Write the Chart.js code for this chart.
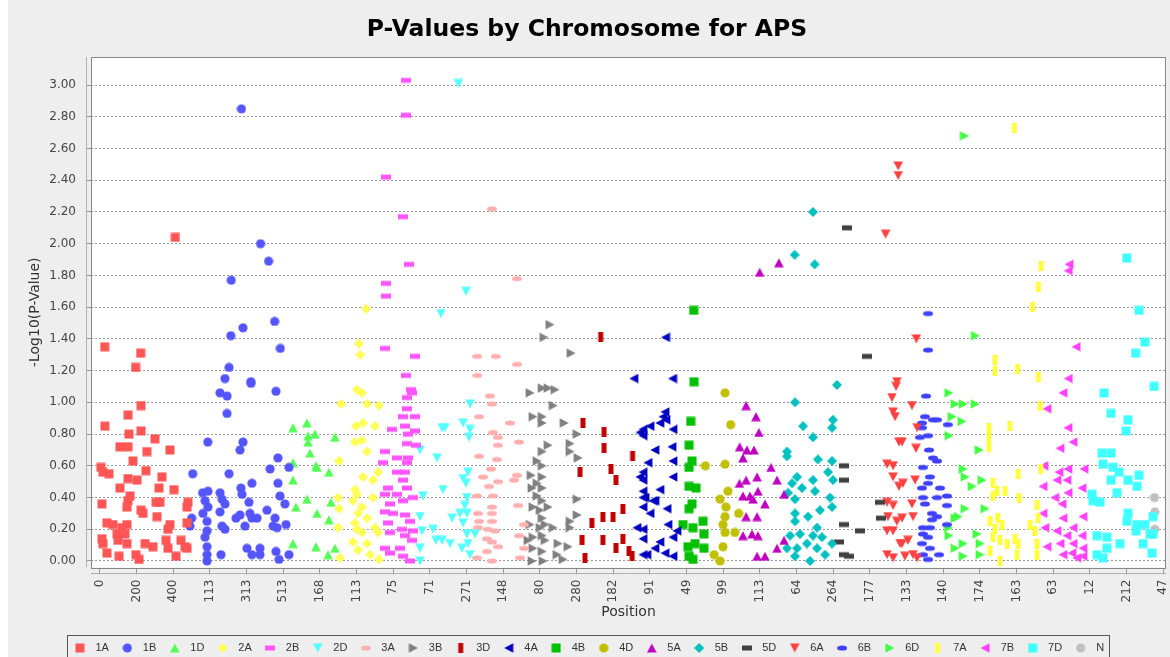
<!DOCTYPE html>
<html>
<head>
<meta charset="utf-8">
<title>P-Values by Chromosome for APS</title>
<script src="https://cdn.jsdelivr.net/npm/chart.js@4.4.1/dist/chart.umd.min.js"></script>
<style>
  html, body { margin: 0; padding: 0; background: #fff; overflow: hidden; }
  #wrap { position: absolute; left: 0; top: 0; width: 1180px; height: 672px; }
</style>
</head>
<body>
<div id="wrap"><canvas id="pvChart" width="1180" height="672"></canvas></div>
<script>
// chromosomes, in plotting order, and where each one starts on the running x axis
const chromosomes = ['1A', '1B', '1D', '2A', '2B', '2D', '3A', '3B', '3D', '4A', '4B',
    '4D', '5A', '5B', '5D', '6A', '6B', '6D', '7A', '7B', '7D', 'N'];
const chromStarts = [0, 487, 1032, 1287, 1525, 1729, 2052, 2320, 2618, 2909, 3151,
    3301, 3487, 3736, 4023, 4267, 4460, 4626, 4837, 5137, 5388, 5753];

// tick labels along the bottom, one every 200 units of the running axis
const tickStep = 200;
const xTickLabels = [0, 200, 400, 113, 313, 513, 168, 113, 75, 71, 271, 148, 80, 280, 182,
    91, 49, 99, 113, 64, 264, 177, 133, 140, 174, 163, 63, 12, 212, 47];

// [position within chromosome, -log10(p)]
const chr1A = [[26,1.35],[222,1.31],[194,1.22],[411,2.04],[27,0.85],[5,0.59],[16,0.56],[49,0.55],[153,0.92],[224,0.98],
    [109,0.72],[153,0.72],[158,0.80],[224,0.82],[180,0.63],[251,0.57],[202,0.51],[153,0.52],[256,0.69],[300,0.77],
    [382,0.70],[338,0.53],[322,0.46],[404,0.45],[109,0.46],[164,0.41],[153,0.38],[306,0.37],[327,0.37],[11,0.36],
    [224,0.32],[235,0.30],[311,0.28],[480,0.37],[475,0.34],[475,0.24],[382,0.23],[371,0.20],[38,0.24],[71,0.23],
    [120,0.21],[147,0.23],[93,0.17],[136,0.17],[11,0.14],[16,0.11],[98,0.13],[147,0.11],[38,0.05],[104,0.03],
    [196,0.04],[213,0.01],[246,0.11],[289,0.09],[360,0.13],[371,0.08],[415,0.03],[442,0.13],[464,0.09],[475,0.08],[147,0.34]];
const chr1B = [[19,0.55],[101,0.75],[13,0.27],[4,0.22],[73,0.43],[102,0.44],[86,0.38],[75,0.30],[102,0.34],[97,0.25],
    [97,0.19],[86,0.15],[97,0.09],[97,0.04],[97,0.00],[168,0.43],[179,0.39],[195,0.36],[168,0.31],[179,0.22],
    [195,0.20],[173,0.04],[168,1.06],[206,1.04],[206,0.93],[217,0.55],[277,0.70],[293,0.75],[282,0.46],[288,0.42],
    [326,0.37],[342,0.49],[255,0.27],[277,0.29],[304,0.22],[331,0.30],[342,0.27],[370,0.27],[315,0.08],[342,0.04],
    [386,0.08],[386,0.04],[337,1.12],[473,1.07],[441,0.58],[484,0.65],[484,0.49],[544,0.59],[495,0.41],[522,0.36],
    [424,0.32],[468,0.27],[457,0.22],[479,0.21],[528,0.23],[473,0.06],[490,0.01],[544,0.04],[285,2.85],[389,2.00],
    [433,1.89],[229,1.77],[466,1.51],[227,1.42],[293,1.47],[497,1.34],[217,1.22],[195,1.15],[336,1.13]];
const chr1D = [[21,0.84],[97,0.87],[103,0.79],[141,0.80],[103,0.75],[114,0.68],[21,0.62],[146,0.60],[152,0.59],[217,0.56],
    [250,0.78],[21,0.51],[37,0.34],[97,0.39],[152,0.30],[228,0.37],[217,0.26],[21,0.11],[146,0.09],[212,0.04],[250,0.08]];
const chr2A = [[28,0.99],[110,0.85],[104,0.75],[17,0.63],[12,0.40],[17,0.33],[12,0.21],[22,0.02],[115,1.08],[142,1.06],
    [170,0.99],[235,0.98],[148,0.87],[213,0.85],[170,0.69],[142,0.76],[148,0.53],[202,0.51],[230,0.56],[202,0.40],
    [142,0.34],[170,0.27],[213,0.21],[230,0.18],[170,0.11],[186,0.04],[235,0.01],[142,0.18],[104,0.45],[115,0.42],
    [93,0.38],[121,0.30],[104,0.24],[115,0.20],[93,0.12],[121,0.07],[165,1.59],[126,1.37],[133,1.30]];
const chr2B = [[177,1.06],[150,1.03],[150,0.96],[128,0.91],[194,0.91],[68,0.83],[139,0.85],[194,0.82],[155,0.80],[150,0.74],
    [200,0.73],[30,0.69],[95,0.65],[155,0.65],[19,0.62],[150,0.62],[95,0.56],[139,0.56],[128,0.51],[46,0.46],
    [150,0.46],[30,0.42],[95,0.42],[183,0.40],[57,0.36],[128,0.38],[30,0.31],[74,0.30],[139,0.29],[166,0.25],
    [46,0.24],[123,0.20],[183,0.19],[57,0.18],[139,0.16],[177,0.13],[30,0.08],[57,0.05],[128,0.03],[166,0.00],
    [112,0.08],[145,3.03],[145,2.81],[38,2.42],[130,2.17],[161,1.87],[38,1.75],[38,1.67],[30,1.34],[194,1.29],[145,1.17],[170,1.08]];
const chr2D = [[17,0.70],[110,0.65],[137,0.84],[153,0.84],[252,0.87],[290,0.83],[284,0.78],[290,0.99],[279,0.56],[252,0.52],
    [268,0.49],[142,0.45],[33,0.41],[17,0.28],[273,0.40],[262,0.35],[235,0.30],[273,0.30],[192,0.27],[252,0.24],
    [317,0.17],[273,0.17],[88,0.20],[104,0.13],[137,0.13],[181,0.11],[28,0.19],[17,0.08],[17,0.00],[279,0.11],
    [290,0.04],[246,0.08],[227,3.01],[268,1.70],[131,1.56]];
const chr3A = [[76,1.04],[87,0.99],[16,0.91],[185,0.87],[92,0.81],[119,0.78],[234,0.75],[119,0.73],[16,0.66],[114,0.64],
    [81,0.58],[223,0.54],[38,0.53],[119,0.50],[207,0.51],[70,0.47],[5,0.41],[92,0.41],[229,0.35],[87,0.34],
    [10,0.30],[87,0.30],[16,0.25],[87,0.25],[262,0.23],[10,0.21],[65,0.20],[103,0.19],[234,0.16],[59,0.14],
    [87,0.12],[119,0.09],[59,0.06],[262,0.08],[5,0.02],[87,0.00],[240,0.02],[86,2.22],[223,1.78],[7,1.29],
    [106,1.29],[223,1.24],[7,1.17]];
const chr3B = [[134,1.49],[102,1.41],[250,1.31],[26,1.06],[92,1.09],[124,1.09],[162,1.08],[152,0.98],[42,0.91],[92,0.91],
    [92,0.87],[212,0.87],[283,0.80],[124,0.73],[244,0.74],[244,0.69],[288,0.65],[64,0.63],[92,0.60],[32,0.54],
    [92,0.53],[64,0.49],[37,0.46],[92,0.46],[283,0.39],[92,0.38],[124,0.34],[42,0.34],[283,0.29],[244,0.25],
    [92,0.27],[26,0.23],[108,0.23],[152,0.21],[244,0.21],[42,0.15],[92,0.16],[15,0.13],[108,0.13],[179,0.11],
    [233,0.09],[42,0.08],[92,0.06],[173,0.04],[37,0.00],[97,0.00],[206,0.01],[81,0.32],[81,0.21],[64,0.41],[92,0.69]];
const chr3D = [[17,0.87],[132,0.81],[132,0.71],[288,0.66],[1,0.56],[170,0.58],[197,0.51],[235,0.33],[181,0.28],[126,0.28],
    [66,0.24],[12,0.13],[126,0.13],[197,0.08],[235,0.14],[268,0.06],[28,0.02],[285,0.03],[114,1.41]];
const chr4A = [[174,0.94],[163,0.91],[179,0.89],[146,0.87],[217,0.83],[54,0.83],[54,0.79],[212,0.72],[217,0.63],[54,0.56],
    [217,0.53],[54,0.51],[54,0.44],[65,0.40],[119,0.38],[54,0.34],[185,0.33],[190,0.23],[239,0.19],[217,0.15],
    [54,0.20],[54,0.14],[54,0.04],[174,0.05],[217,0.03],[37,0.81],[37,0.53],[54,0.40],[108,0.38],[21,0.21],
    [75,0.04],[177,1.41],[4,1.15],[215,1.15],[92,0.85],[119,0.70],[81,0.62],[146,0.45],[92,0.30],[146,0.12],[119,0.08]];
const chr4B = [[72,0.88],[63,0.73],[79,0.63],[63,0.59],[63,0.47],[101,0.46],[79,0.36],[63,0.33],[30,0.23],[84,0.21],
    [139,0.25],[144,0.17],[57,0.09],[95,0.11],[144,0.08],[63,0.03],[84,0.01],[90,1.13],[88,1.58]];
const chr4D = [[109,1.06],[140,0.86],[2,0.60],[109,0.61],[125,0.44],[82,0.39],[114,0.34],[183,0.30],[109,0.28],[98,0.23],
    [163,0.18],[109,0.18],[98,0.09],[49,0.04],[82,0.00]];
const chr5A = [[38,0.98],[92,0.91],[108,0.81],[3,0.72],[43,0.70],[81,0.70],[21,0.65],[174,0.59],[207,0.51],[38,0.51],
    [2,0.49],[98,0.53],[103,0.44],[21,0.41],[59,0.41],[76,0.39],[245,0.42],[141,0.36],[38,0.28],[98,0.28],
    [70,0.17],[103,0.16],[21,0.16],[207,0.08],[245,0.13],[98,0.03],[141,0.03],[112,1.82],[217,1.88]];
const chr5B = [[56,1.00],[100,0.85],[263,0.89],[258,0.84],[154,0.78],[12,0.69],[12,0.66],[181,0.64],[258,0.63],[236,0.56],
    [263,0.51],[67,0.53],[40,0.49],[94,0.46],[154,0.51],[165,0.44],[18,0.43],[56,0.39],[247,0.40],[192,0.32],
    [258,0.34],[56,0.30],[127,0.28],[56,0.25],[176,0.21],[29,0.16],[83,0.17],[154,0.16],[203,0.15],[12,0.08],
    [67,0.08],[121,0.11],[176,0.08],[258,0.11],[56,0.03],[138,0.00],[220,0.04],[154,2.20],[54,1.93],[163,1.87],[285,1.11]];
const chr5D = [[36,0.60],[36,0.51],[36,0.23],[124,0.19],[9,0.12],[36,0.04],[63,0.03],[233,0.37],[240,0.27],[50,2.10],[163,1.29]];
const chr6A = [[81,1.13],[54,1.03],[60,0.94],[71,0.91],[92,0.75],[27,0.61],[60,0.60],[60,0.53],[92,0.47],[27,0.37],
    [60,0.35],[32,0.28],[81,0.25],[27,0.19],[60,0.19],[98,0.11],[27,0.04],[60,0.02],[163,0.98],[191,0.84],
    [185,0.71],[109,0.75],[180,0.51],[114,0.49],[163,0.36],[169,0.28],[109,0.27],[141,0.13],[109,0.11],[169,0.04],
    [125,0.03],[191,0.02],[88,2.49],[88,2.43],[19,2.06],[187,1.40],[76,1.10]];
const chr6B = [[47,1.04],[41,0.91],[85,0.89],[107,0.89],[165,0.86],[25,0.87],[25,0.84],[58,0.79],[14,0.78],[63,0.70],
    [85,0.65],[107,0.63],[30,0.59],[68,0.53],[58,0.49],[25,0.46],[123,0.46],[30,0.40],[107,0.40],[161,0.41],
    [41,0.36],[161,0.35],[79,0.30],[107,0.28],[79,0.26],[161,0.23],[30,0.21],[68,0.21],[30,0.17],[58,0.15],
    [25,0.11],[68,0.08],[30,0.04],[118,0.04],[58,0.01],[58,1.56],[58,1.33]];
const chr6D = [[5,1.06],[39,0.99],[83,0.99],[148,0.99],[23,0.91],[77,0.88],[6,0.79],[170,0.70],[83,0.58],[93,0.53],
    [186,0.51],[132,0.47],[93,0.33],[202,0.33],[39,0.27],[55,0.28],[3,0.21],[5,0.16],[159,0.17],[83,0.11],
    [175,0.11],[39,0.08],[83,0.03],[175,0.04],[90,2.68],[150,1.42]];
const chr7A = [[13,0.84],[128,0.85],[13,0.78],[13,0.72],[292,0.98],[172,0.55],[296,0.58],[35,0.49],[57,0.44],[101,0.44],
    [35,0.41],[177,0.40],[275,0.35],[19,0.25],[62,0.27],[84,0.23],[237,0.23],[281,0.27],[46,0.20],[35,0.15],
    [73,0.13],[112,0.11],[155,0.14],[172,0.11],[264,0.19],[275,0.11],[19,0.06],[73,0.00],[166,0.04],[275,0.04],
    [152,2.73],[297,1.86],[283,1.73],[251,1.60],[46,1.27],[46,1.20],[170,1.21],[283,1.16]];
const chr7B = [[117,1.06],[30,0.96],[144,0.84],[172,0.75],[101,0.71],[13,0.60],[95,0.56],[144,0.58],[232,0.58],[84,0.51],
    [139,0.51],[8,0.47],[221,0.46],[144,0.43],[73,0.40],[112,0.36],[8,0.30],[226,0.28],[117,0.27],[19,0.21],
    [84,0.19],[172,0.21],[139,0.16],[221,0.16],[101,0.11],[172,0.11],[30,0.09],[226,0.08],[117,0.04],[193,0.02],
    [226,0.03],[166,0.05],[150,1.87],[146,1.83],[189,1.35],[146,1.15]];
const chr7D = [[363,1.10],[90,1.06],[128,0.93],[221,0.89],[210,0.82],[79,0.68],[128,0.68],[84,0.61],[139,0.59],[172,0.56],
    [281,0.54],[128,0.51],[221,0.51],[270,0.47],[161,0.43],[24,0.42],[30,0.38],[68,0.37],[221,0.30],[270,0.23],
    [313,0.23],[265,0.19],[357,0.17],[215,0.25],[52,0.16],[106,0.15],[177,0.11],[303,0.11],[341,0.17],[52,0.04],
    [106,0.08],[84,0.02],[352,0.05],[357,0.28],[214,1.91],[281,1.58],[313,1.38],[262,1.31]];
const chrN = [[0,0.40],[2,0.31],[2,0.20]];

const series = [chr1A, chr1B, chr1D, chr2A, chr2B, chr2D, chr3A, chr3B, chr3D, chr4A, chr4B,
    chr4D, chr5A, chr5B, chr5D, chr6A, chr6B, chr6D, chr7A, chr7B, chr7D, chrN];

const chromColors = ['#ff5555', '#5555ff', '#55ff55', '#ffff55', '#ff55ff', '#55ffff', '#ffafaf',
    '#808080', '#c00000', '#0000c0', '#00c000', '#c0c000', '#c000c0', '#00c0c0', '#404040',
    '#ff4040', '#4040ff', '#40ff40', '#ffff40', '#ff40ff', '#40ffff', '#c0c0c0'];
const shapeCycle = ['square', 'circle', 'up', 'diamond', 'hrect', 'down', 'ellipse', 'right', 'vrect', 'left'];

// small marker glyphs, same look as the old java chart
function makeMarker(shape, color) {
    const c = document.createElement('canvas');
    c.width = 10;
    c.height = 10;
    const g = c.getContext('2d');
    g.fillStyle = color;
    g.beginPath();
    switch (shape) {
        case 'square': g.rect(0.5, 0.5, 9, 9); break;
        case 'circle': g.arc(5, 5, 4.6, 0, Math.PI * 2); break;
        case 'up': g.moveTo(5, 0.4); g.lineTo(9.8, 9.4); g.lineTo(0.2, 9.4); break;
        case 'down': g.moveTo(0.2, 0.6); g.lineTo(9.8, 0.6); g.lineTo(5, 9.6); break;
        case 'right': g.moveTo(0.6, 0.2); g.lineTo(9.6, 5); g.lineTo(0.6, 9.8); break;
        case 'left': g.moveTo(9.4, 0.2); g.lineTo(0.4, 5); g.lineTo(9.4, 9.8); break;
        case 'diamond': g.moveTo(5, 0); g.lineTo(10, 5); g.lineTo(5, 10); g.lineTo(0, 5); break;
        case 'hrect': g.rect(0, 2.5, 10, 5); break;
        case 'vrect': g.rect(2.5, 0, 5, 10); break;
        case 'ellipse': g.ellipse(5, 5, 5, 2.6, 0, 0, Math.PI * 2); break;
    }
    g.closePath();
    g.fill();
    return c;
}

const datasets = chromosomes.map((name, i) => ({
    label: name,
    data: series[i].map(([pos, val]) => ({ x: chromStarts[i] + pos, y: val })),
    pointStyle: makeMarker(shapeCycle[i % shapeCycle.length], chromColors[i]),
    backgroundColor: chromColors[i],
    borderColor: chromColors[i],
    pointRadius: 5,
    showLine: false
}));

const plotFrame = {
    id: 'plotFrame',
    beforeDraw(chart) {
        const { ctx, chartArea: a } = chart;
        ctx.save();
        ctx.fillStyle = '#eeeeee';
        ctx.fillRect(0, 0, chart.width, chart.height);
        ctx.fillStyle = '#ffffff';
        ctx.fillRect(0, 0, 8, chart.height);
        ctx.fillRect(a.left, a.top, a.right - a.left, a.bottom - a.top);
        ctx.restore();
    },
    afterDraw(chart) {
        const { ctx, chartArea: a, legend } = chart;
        ctx.save();
        ctx.strokeStyle = '#888888';
        ctx.lineWidth = 1;
        ctx.strokeRect(Math.round(a.left) + 0.5, Math.round(a.top) + 0.5,
            Math.round(a.right - a.left) - 1, Math.round(a.bottom - a.top));
        // axis lines sit a few pixels away from the plot box
        ctx.strokeStyle = '#b0b0b0';
        ctx.beginPath();
        ctx.moveTo(Math.round(a.left) - 4.5, a.top);
        ctx.lineTo(Math.round(a.left) - 4.5, a.bottom);
        ctx.moveTo(a.left, Math.round(a.bottom) + 5.5);
        ctx.lineTo(a.right, Math.round(a.bottom) + 5.5);
        ctx.stroke();
        // legend box
        const boxes = legend.legendHitBoxes;
        const l = Math.min(...boxes.map(b => b.left)) - 3;
        const r = Math.max(...boxes.map(b => b.left + b.width)) + 5;
        ctx.strokeStyle = '#555555';
        ctx.strokeRect(Math.round(l) + 0.5, Math.round(legend.top) + 1.5, Math.round(r - l), 40);
        ctx.restore();
    }
};

new Chart(document.getElementById('pvChart'), {
    type: 'scatter',
    data: { datasets: datasets },
    options: {
        responsive: false,
        animation: false,
        devicePixelRatio: 1,
        layout: { padding: { left: 8, right: 14, top: 0, bottom: 8.5 } },
        plugins: {
            title: {
                display: true,
                text: 'P-Values by Chromosome for APS',
                color: '#000',
                font: { family: 'DejaVu Sans', size: 23.5, weight: 'bold' },
                padding: { top: 15.9, bottom: 12.9 }
            },
            legend: {
                position: 'bottom',
                labels: {
                    usePointStyle: true,
                    pointStyleWidth: 20,
                    padding: 8.5,
                    color: '#333',
                    font: { family: 'Liberation Sans', size: 11 }
                }
            },
            tooltip: { enabled: false }
        },
        scales: {
            x: {
                type: 'linear',
                min: -49,
                max: 5816,
                afterBuildTicks: (axis) => {
                    axis.ticks = xTickLabels.map((_, i) => ({ value: i * tickStep }));
                },
                afterFit: (axis) => {
                    axis.height = 66.5;
                    axis.paddingLeft = 0;
                    axis.paddingRight = 0;
                },
                ticks: {
                    autoSkip: false,
                    minRotation: 90,
                    maxRotation: 90,
                    padding: 5,
                    color: '#444',
                    font: { family: 'DejaVu Sans', size: 12 },
                    callback: (value, index) => xTickLabels[index]
                },
                grid: {
                    drawOnChartArea: false,
                    drawTicks: true,
                    tickLength: 7,
                    color: '#999'
                },
                border: { display: false },
                title: {
                    display: true,
                    text: 'Position',
                    color: '#333',
                    font: { family: 'DejaVu Sans', size: 14 },
                    padding: { top: 0, bottom: 13 }
                }
            },
            y: {
                min: -0.041,
                max: 3.177,
                afterBuildTicks: (axis) => {
                    const t = [];
                    for (let k = 0; k <= 15; k++) t.push({ value: k * 0.2 });
                    axis.ticks = t;
                },
                afterFit: (axis) => {
                    axis.width = 83;
                    axis.paddingTop = 0;
                    axis.paddingBottom = 0;
                },
                ticks: {
                    padding: 10,
                    color: '#444',
                    font: { family: 'DejaVu Sans', size: 12 },
                    callback: (value) => value.toFixed(2)
                },
                grid: {
                    color: '#999',
                    tickLength: 5
                },
                border: { display: false, dash: [2, 2] },
                title: {
                    display: true,
                    text: '-Log10(P-Value)',
                    color: '#333',
                    font: { family: 'DejaVu Sans', size: 14 },
                    padding: { top: 18.6, bottom: 0 }
                }
            }
        }
    },
    plugins: [plotFrame]
});
</script>
</body>
</html>
